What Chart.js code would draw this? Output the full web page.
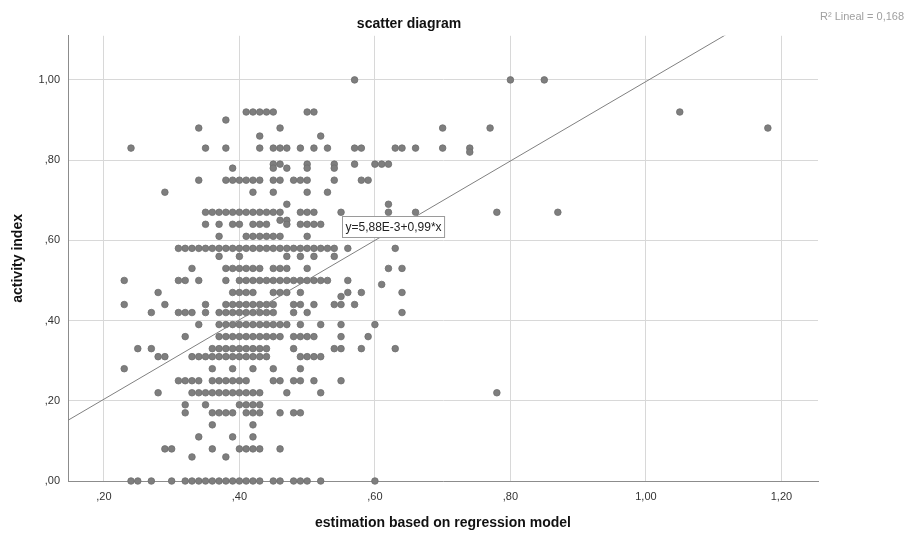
<!DOCTYPE html>
<html lang="en">

<head>
  <title>scatter diagram</title>
  <meta charset="utf-8"/>
  <script src="https://cdn.jsdelivr.net/npm/chart.js"></script>
  <style>
    body {
      margin: 0;
      background: #fff;
    }

    #my_chart {
      display: block;
    }
  </style>
</head>

<body>
  <canvas id="my_chart" width="911" height="534"></canvas>

<script>
// activity index levels (y) and the estimations (x) read off for each level
var activityLevels = [
  1.00, 0.92, 0.90, 0.88, 0.86, 0.83, 0.82, 0.79, 0.78, 0.75,
  0.72, 0.69, 0.67, 0.65, 0.64, 0.61, 0.58, 0.56, 0.53, 0.50,
  0.49, 0.47, 0.46, 0.44, 0.42, 0.39, 0.36, 0.33, 0.31, 0.28,
  0.25, 0.22, 0.19, 0.17, 0.14, 0.11, 0.08, 0.06, 0.00
];
var estimationsPerLevel = [
  [0.57, 0.80, 0.85],
  [0.41, 0.42, 0.43, 0.44, 0.45, 0.50, 0.51, 1.05],
  [0.38],
  [0.34, 0.46, 0.70, 0.77, 1.18],
  [0.43, 0.52],
  [0.24, 0.35, 0.38, 0.43, 0.45, 0.46, 0.47, 0.49, 0.51, 0.53, 0.57, 0.58, 0.63, 0.64, 0.66, 0.70, 0.74],
  [0.74],
  [0.45, 0.46, 0.50, 0.54, 0.57, 0.60, 0.61, 0.62],
  [0.39, 0.45, 0.47, 0.50, 0.54],
  [0.34, 0.38, 0.39, 0.40, 0.41, 0.42, 0.43, 0.45, 0.46, 0.48, 0.49, 0.50, 0.54, 0.58, 0.59],
  [0.29, 0.42, 0.45, 0.50, 0.53],
  [0.47, 0.62],
  [0.35, 0.36, 0.37, 0.38, 0.39, 0.40, 0.41, 0.42, 0.43, 0.44, 0.45, 0.46, 0.49, 0.50, 0.51, 0.55, 0.62, 0.66, 0.78, 0.87],
  [0.46, 0.47],
  [0.35, 0.37, 0.39, 0.40, 0.42, 0.43, 0.44, 0.47, 0.49, 0.50, 0.51, 0.52],
  [0.37, 0.41, 0.42, 0.43, 0.44, 0.45, 0.46, 0.50],
  [0.31, 0.32, 0.33, 0.34, 0.35, 0.36, 0.37, 0.38, 0.39, 0.40, 0.41, 0.42, 0.43, 0.44, 0.45, 0.46, 0.47, 0.48, 0.49, 0.50, 0.51, 0.52, 0.53, 0.54, 0.56, 0.63],
  [0.37, 0.40, 0.47, 0.49, 0.51, 0.54],
  [0.33, 0.38, 0.39, 0.40, 0.41, 0.42, 0.43, 0.45, 0.46, 0.47, 0.50, 0.62, 0.64],
  [0.23, 0.31, 0.32, 0.34, 0.38, 0.40, 0.41, 0.42, 0.43, 0.44, 0.45, 0.46, 0.47, 0.48, 0.49, 0.50, 0.51, 0.52, 0.53, 0.56],
  [0.61],
  [0.28, 0.39, 0.40, 0.41, 0.42, 0.45, 0.46, 0.47, 0.49, 0.56, 0.58, 0.64],
  [0.55],
  [0.23, 0.29, 0.35, 0.38, 0.39, 0.40, 0.41, 0.42, 0.43, 0.44, 0.45, 0.48, 0.49, 0.51, 0.54, 0.55, 0.57],
  [0.27, 0.31, 0.32, 0.33, 0.35, 0.37, 0.38, 0.39, 0.40, 0.41, 0.42, 0.43, 0.44, 0.45, 0.48, 0.50, 0.64],
  [0.34, 0.37, 0.38, 0.39, 0.40, 0.41, 0.42, 0.43, 0.44, 0.45, 0.46, 0.47, 0.49, 0.52, 0.55, 0.60],
  [0.32, 0.37, 0.38, 0.39, 0.40, 0.41, 0.42, 0.43, 0.44, 0.45, 0.46, 0.48, 0.49, 0.50, 0.51, 0.55, 0.59],
  [0.25, 0.27, 0.36, 0.37, 0.38, 0.39, 0.40, 0.41, 0.42, 0.43, 0.44, 0.48, 0.54, 0.55, 0.58, 0.63],
  [0.28, 0.29, 0.33, 0.34, 0.35, 0.36, 0.37, 0.38, 0.39, 0.40, 0.41, 0.42, 0.43, 0.44, 0.49, 0.50, 0.51, 0.52],
  [0.23, 0.36, 0.39, 0.42, 0.45, 0.49],
  [0.31, 0.32, 0.33, 0.34, 0.36, 0.37, 0.38, 0.39, 0.40, 0.41, 0.45, 0.46, 0.48, 0.49, 0.51, 0.55],
  [0.28, 0.33, 0.34, 0.35, 0.36, 0.37, 0.38, 0.39, 0.40, 0.41, 0.42, 0.43, 0.47, 0.52, 0.78],
  [0.32, 0.35, 0.40, 0.41, 0.42, 0.43],
  [0.32, 0.36, 0.37, 0.38, 0.39, 0.41, 0.42, 0.43, 0.46, 0.48, 0.49],
  [0.36, 0.42],
  [0.34, 0.39, 0.42],
  [0.29, 0.30, 0.36, 0.40, 0.41, 0.42, 0.43, 0.46],
  [0.33, 0.38],
  [0.24, 0.25, 0.27, 0.30, 0.32, 0.33, 0.34, 0.35, 0.36, 0.37, 0.38, 0.39, 0.40, 0.41, 0.42, 0.43, 0.45, 0.46, 0.48, 0.49, 0.50, 0.52, 0.60]
];

// linear fit reported by the chart
var fitIntercept = 0.00588;
var fitSlope = 0.99;
var fitLabel = 'y=5,88E-3+0,99*x';
var r2Label = 'R\u00b2 Lineal = 0,168';

var xRange = [0.147, 1.254];
var yRange = [0, 1.11];

var FONT = "'Liberation Sans', Arial, sans-serif";

function getScatterPoints () {
  var points = [];
  activityLevels.forEach((level, i) => {
    estimationsPerLevel[i].forEach(est => {
      points.push({ x: est, y: level });
    });
  });
  return points;
}

function getFitPoints () {
  return xRange.map(x => ({ x: x, y: fitIntercept + fitSlope * x }));
}

// ,20 / 1,00 style labels
function commaLabel (value) {
  var s = value.toFixed(2).replace('.', ',');
  return s.charAt(0) === '0' ? s.slice(1) : s;
}

const annotations = {
  id: 'annotations',
  afterDraw (chart) {
    const ctx = chart.ctx;
    const xs = chart.scales.x;
    const ys = chart.scales.y;
    ctx.save();

    // equation box
    ctx.font = '12px ' + FONT;
    const left = Math.round(xs.getPixelForValue(0.551)) + 0.5;
    const top = Math.round(ys.getPixelForValue(0.66)) + 0.5;
    const w = ctx.measureText(fitLabel).width + 6;
    ctx.fillStyle = '#fff';
    ctx.fillRect(left, top, w, 21);
    ctx.strokeStyle = '#9a9a9a';
    ctx.lineWidth = 1;
    ctx.strokeRect(left, top, w, 21);
    ctx.fillStyle = '#222';
    ctx.textBaseline = 'middle';
    ctx.fillText(fitLabel, left + 3, top + 11);

    // R² note top right
    ctx.font = '11px ' + FONT;
    ctx.fillStyle = '#a0a0a0';
    ctx.fillText(r2Label, 820, 17);
    ctx.restore();
  }
};

window.onload = function () {
  const config = {
    type: 'scatter',
    data: {
      datasets: [
        {
          data: getFitPoints(),
          showLine: true,
          borderColor: '#808080',
          borderWidth: 1,
          pointRadius: 0,
          clip: 0
        },
        {
          data: getScatterPoints(),
          backgroundColor: '#7e7e7e',
          borderColor: '#6e6e6e',
          borderWidth: 0.8,
          pointRadius: 3.3,
          clip: false
        }
      ]
    },
    options: {
      responsive: false,
      animation: false,
      layout: {
        padding: { left: 0, right: 93, top: 0, bottom: 0 }
      },
      plugins: {
        legend: { display: false },
        tooltip: { enabled: false },
        title: {
          display: true,
          text: 'scatter diagram',
          color: '#111',
          font: { family: FONT, size: 14, weight: 'bold' },
          padding: { top: 16, bottom: 3 }
        }
      },
      scales: {
        x: {
          type: 'linear',
          min: xRange[0],
          max: xRange[1],
          afterFit: (scale) => { scale.height = 53; },
          grid: { color: '#d8d8d8', drawTicks: false },
          border: { color: '#8c8c8c', width: 1 },
          ticks: {
            stepSize: 0.2,
            includeBounds: false,
            padding: 9,
            color: '#333',
            font: { family: FONT, size: 11 },
            callback: (v) => commaLabel(v)
          },
          title: {
            display: true,
            text: 'estimation based on regression model',
            color: '#111',
            font: { family: FONT, size: 14, weight: 'bold' },
            padding: { top: 0, bottom: 2 }
          }
        },
        y: {
          type: 'linear',
          min: yRange[0],
          max: yRange[1],
          afterFit: (scale) => { scale.width = 68; },
          grid: { color: '#d8d8d8', drawTicks: false },
          border: { color: '#8c8c8c', width: 1 },
          ticks: {
            stepSize: 0.2,
            includeBounds: false,
            padding: 8,
            color: '#333',
            font: { family: FONT, size: 11 },
            callback: (v) => commaLabel(v)
          },
          title: {
            display: true,
            text: 'activity index',
            color: '#111',
            font: { family: FONT, size: 14, weight: 'bold' },
            padding: { top: 10, bottom: 0 }
          }
        }
      }
    },
    plugins: [annotations]
  };

  const ctx = document.getElementById('my_chart').getContext('2d');
  new Chart(ctx, config);
}
</script>

</body>

</html>
